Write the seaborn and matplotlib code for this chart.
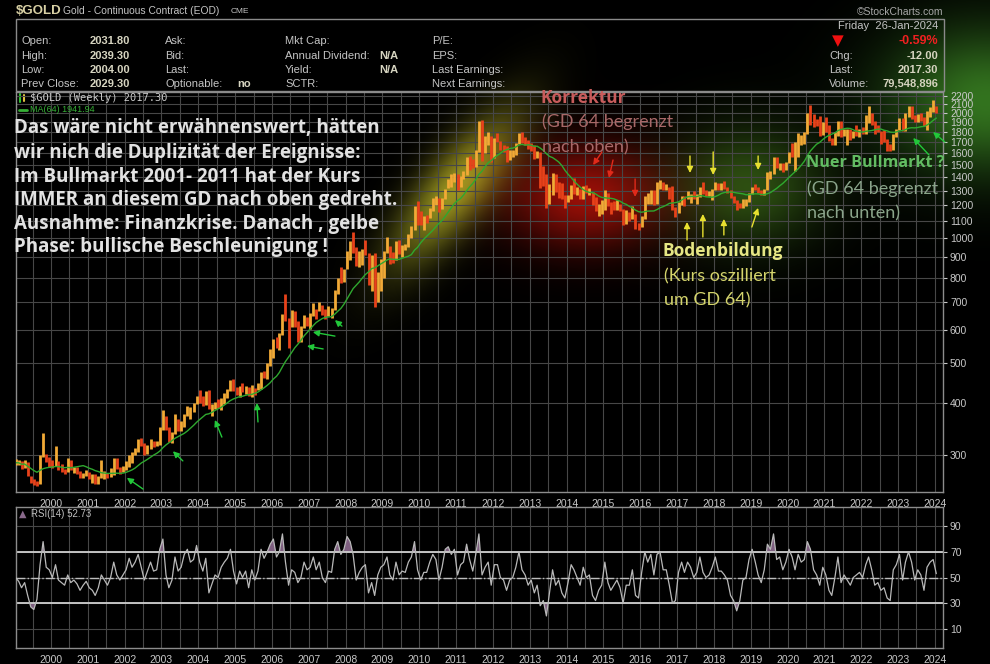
import numpy as np
import pandas as pd
import matplotlib
matplotlib.use('Agg')
import matplotlib.pyplot as plt
from matplotlib.lines import Line2D
from matplotlib.ticker import NullLocator, NullFormatter
import seaborn as sns

#%% Data: monthly gold values Jan 1999 .. Jan 2024
close = [287, 287, 280, 286, 268, 261, 255, 254, 299, 300, 292, 289,
         284, 294, 278, 275, 273, 289, 277, 278, 274, 265, 270, 273,
         266, 267, 258, 264, 266, 271, 266, 274, 292, 279, 275, 279,
         282, 297, 302, 309, 326, 318, 305, 313, 324, 317, 318, 348,
         368, 348, 335, 339, 362, 347, 353, 375, 384, 384, 396, 416,
         402, 396, 426, 388, 394, 396, 392, 408, 420, 429, 453, 438,
         423, 436, 428, 436, 417, 436, 429, 434, 473, 470, 496, 518,
         569, 557, 586, 654, 653, 616, 634, 627, 601, 607, 648, 636,
         652, 671, 669, 682, 657, 651, 668, 673, 748, 795, 786, 838,
         925, 975, 934, 866, 885, 930, 918, 834, 885, 717, 817, 884,
         928, 942, 924, 884, 980, 927, 955, 955, 1008, 1040, 1182, 1096,
         1083, 1118, 1115, 1180, 1212, 1244, 1181, 1246, 1308, 1357, 1384, 1421,
         1333, 1410, 1439, 1556, 1536, 1502, 1628, 1828, 1620, 1724, 1746, 1566,
         1740, 1711, 1669, 1664, 1562, 1604, 1614, 1692, 1776, 1719, 1714, 1676,
         1663, 1578, 1597, 1476, 1393, 1234, 1313, 1396, 1327, 1323, 1250, 1202,
         1240, 1321, 1283, 1296, 1250, 1322, 1282, 1287, 1210, 1171, 1175, 1184,
         1284, 1213, 1184, 1182, 1190, 1172, 1095, 1132, 1115, 1142, 1065, 1060,
         1118, 1234, 1234, 1293, 1216, 1322, 1351, 1307, 1317, 1276, 1173, 1152,
         1212, 1254, 1249, 1268, 1268, 1242, 1269, 1322, 1280, 1270, 1275, 1309,
         1345, 1318, 1327, 1316, 1305, 1254, 1233, 1206, 1196, 1215, 1226, 1284,
         1325, 1316, 1298, 1286, 1312, 1413, 1437, 1529, 1485, 1515, 1473, 1523,
         1589, 1566, 1596, 1694, 1751, 1800, 1986, 1978, 1896, 1880, 1781, 1895,
         1850, 1734, 1716, 1769, 1907, 1771, 1817, 1819, 1757, 1784, 1776, 1829,
         1796, 1908, 1954, 1911, 1848, 1817, 1781, 1726, 1672, 1640, 1768, 1826,
         1928, 1836, 1986, 1999, 1982, 1929, 1970, 1966, 1870, 1996, 2057, 2072,
         2017]

high = [293, 291, 290, 292, 289, 266, 262, 260, 300, 338, 302, 297,
        292, 315, 290, 285, 278, 294, 291, 280, 281, 274, 271, 275,
        273, 270, 269, 267, 292, 274, 271, 279, 294, 294, 280, 282,
        290, 300, 304, 311, 328, 330, 320, 317, 327, 324, 323, 350,
        384, 372, 351, 341, 376, 367, 361, 377, 394, 391, 399, 417,
        430, 415, 427, 431, 397, 403, 409, 412, 422, 433, 455, 458,
        438, 440, 447, 440, 437, 443, 434, 448, 474, 479, 499, 541,
        571, 576, 590, 655, 732, 643, 672, 665, 630, 615, 653, 645,
        659, 696, 673, 699, 691, 673, 685, 679, 750, 800, 850, 841,
        933, 981, 1033, 951, 933, 942, 990, 920, 912, 919, 829, 890,
        932, 1007, 958, 927, 981, 990, 963, 966, 1021, 1071, 1196, 1227,
        1163, 1129, 1137, 1183, 1249, 1266, 1249, 1250, 1310, 1388, 1424, 1432,
        1423, 1414, 1447, 1569, 1577, 1553, 1632, 1917, 1923, 1761, 1804, 1764,
        1744, 1792, 1718, 1675, 1667, 1628, 1628, 1693, 1790, 1798, 1754, 1727,
        1697, 1680, 1620, 1614, 1488, 1424, 1348, 1434, 1424, 1362, 1361, 1267,
        1270, 1345, 1392, 1331, 1315, 1332, 1346, 1323, 1293, 1255, 1208, 1238,
        1307, 1284, 1224, 1225, 1232, 1205, 1175, 1170, 1157, 1192, 1145, 1088,
        1127, 1263, 1287, 1306, 1304, 1362, 1377, 1366, 1352, 1326, 1338, 1190,
        1220, 1264, 1264, 1296, 1274, 1296, 1275, 1330, 1362, 1306, 1300, 1310,
        1366, 1361, 1356, 1369, 1326, 1309, 1262, 1235, 1215, 1243, 1241, 1286,
        1329, 1349, 1324, 1309, 1313, 1443, 1453, 1566, 1566, 1519, 1517, 1528,
        1613, 1691, 1703, 1788, 1775, 1802, 2005, 2089, 1993, 1933, 1966, 1900,
        1962, 1875, 1741, 1797, 1919, 1916, 1836, 1834, 1836, 1814, 1877, 1832,
        1853, 1975, 2078, 2003, 1911, 1877, 1815, 1824, 1735, 1683, 1786, 1837,
        1951, 1949, 2003, 2085, 2085, 1985, 1990, 2000, 1953, 2022, 2072, 2152,
        2086]

low = [284, 283, 278, 279, 266, 256, 253, 252, 255, 297, 288, 280,
       279, 282, 276, 273, 269, 272, 276, 271, 270, 263, 263, 267,
       262, 256, 255, 255, 264, 262, 264, 265, 268, 277, 270, 272,
       276, 281, 287, 299, 305, 315, 300, 301, 309, 313, 315, 316,
       345, 345, 322, 321, 337, 343, 342, 350, 373, 367, 380, 397,
       399, 393, 395, 386, 372, 387, 388, 384, 397, 411, 428, 427,
       419, 413, 426, 420, 415, 414, 418, 430, 433, 460, 458, 490,
       514, 542, 538, 583, 630, 542, 610, 610, 560, 562, 606, 613,
       602, 647, 636, 666, 651, 637, 648, 642, 669, 732, 777, 782,
       841, 887, 918, 858, 852, 859, 908, 772, 744, 682, 701, 746,
       800, 920, 864, 869, 885, 917, 902, 935, 950, 1001, 1043, 1074,
       1075, 1044, 1089, 1116, 1164, 1199, 1155, 1177, 1242, 1317, 1330, 1365,
       1309, 1327, 1384, 1419, 1462, 1478, 1481, 1611, 1535, 1602, 1676, 1522,
       1563, 1700, 1627, 1612, 1527, 1542, 1565, 1587, 1687, 1697, 1672, 1635,
       1625, 1555, 1562, 1321, 1338, 1180, 1208, 1272, 1292, 1251, 1242, 1182,
       1219, 1239, 1277, 1268, 1240, 1241, 1281, 1272, 1204, 1160, 1131, 1142,
       1167, 1196, 1142, 1170, 1170, 1162, 1077, 1080, 1098, 1110, 1052, 1046,
       1061, 1111, 1208, 1206, 1200, 1207, 1310, 1302, 1304, 1241, 1171, 1123,
       1146, 1200, 1195, 1241, 1214, 1242, 1205, 1258, 1276, 1261, 1264, 1238,
       1302, 1307, 1303, 1311, 1282, 1249, 1213, 1167, 1180, 1182, 1196, 1221,
       1276, 1305, 1281, 1267, 1267, 1309, 1385, 1427, 1474, 1462, 1446, 1459,
       1518, 1564, 1451, 1567, 1679, 1690, 1781, 1874, 1851, 1860, 1764, 1776,
       1803, 1717, 1677, 1678, 1767, 1750, 1762, 1677, 1721, 1746, 1758, 1753,
       1780, 1780, 1890, 1872, 1785, 1805, 1681, 1709, 1622, 1618, 1628, 1753,
       1825, 1809, 1809, 1960, 1941, 1900, 1901, 1913, 1860, 1823, 1955, 2009,
       2001]

rsi = [50, 47, 42, 46, 36, 27, 25, 33, 60, 78, 58, 56,
       50, 60, 48, 46, 44, 52, 46, 48, 45, 40, 44, 47,
       42, 40, 36, 42, 52, 48, 44, 50, 62, 52, 48, 52,
       56, 65, 58, 62, 68, 58, 48, 55, 62, 55, 56, 72,
       80, 52, 42, 48, 66, 55, 58, 68, 72, 62, 64, 75,
       62, 55, 65, 38, 45, 52, 50, 58, 62, 65, 72, 55,
       45, 55, 50, 55, 42, 56, 48, 55, 72, 65, 70, 76,
       80, 66, 70, 84, 62, 44, 56, 54, 46, 50, 62, 56,
       58, 66, 56, 62, 50, 46, 55, 54, 72, 78, 68, 72,
       82, 78, 68, 48, 54, 58, 60, 38, 46, 36, 52, 58,
       60, 66, 52, 48, 62, 52, 55, 54, 62, 66, 78, 56,
       48, 54, 54, 62, 68, 64, 48, 58, 72, 74, 68, 72,
       52, 60, 62, 76, 64, 55, 68, 84, 52, 58, 62, 44,
       60, 60, 50, 48, 40, 48, 50, 58, 70, 56, 52, 44,
       48, 38, 44, 28, 32, 20, 38, 56, 44, 48, 38, 34,
       46, 60, 56, 50, 44, 58, 50, 52, 36, 32, 40, 44,
       62, 46, 40, 44, 48, 42, 30, 44, 44, 56, 36, 34,
       54, 70, 62, 68, 52, 68, 70, 56, 56, 44, 30, 32,
       54, 62, 54, 62, 58, 50, 54, 66, 54, 50, 52, 58,
       66, 55, 55, 52, 48, 36, 32, 24, 32, 48, 50, 64,
       72, 62, 52, 46, 56, 76, 72, 84, 64, 66, 56, 62,
       72, 66, 56, 68, 62, 64, 78, 72, 56, 52, 44, 58,
       52, 40, 36, 50, 66, 46, 52, 48, 44, 50, 52, 54,
       50, 60, 66, 56, 44, 46, 40, 42, 34, 32, 56, 60,
       68, 48, 62, 70, 62, 48, 56, 52, 40, 58, 62, 64,
       53]

year_ticks = list(range(2000, 2025))
price_ticks = [300, 400, 500, 600, 700, 800, 900, 1000, 1100, 1200, 1300,
               1400, 1500, 1600, 1700, 1800, 1900, 2000, 2100, 2200]
rsi_ticks = [10, 30, 50, 70, 90]

# arrows: (tail year, tail price, head year, head price)
green_arrows = [(2002.50, 248, 2002.06, 264), (2003.58, 290, 2003.31, 306),
                (2004.64, 331, 2004.45, 364), (2005.62, 360, 2005.59, 400),
                (2007.39, 540, 2006.95, 549), (2007.71, 580, 2007.11, 593),
                (2007.90, 613, 2007.71, 634), (2023.84, 1586, 2023.41, 1743),
                (2024.27, 1704, 2023.95, 1802)]
red_arrows = [(2014.96, 1613, 2014.72, 1500), (2015.26, 1542, 2015.15, 1396),
              (2015.86, 1388, 2015.86, 1256)]
yellow_arrows = [(2017.35, 1577, 2017.35, 1435), (2017.98, 1613, 2017.98, 1419),
                 (2019.20, 1577, 2019.20, 1459), (2017.27, 989, 2017.27, 1093),
                 (2017.70, 1006, 2017.70, 1143), (2018.27, 1017, 2018.27, 1112),
                 (2019.03, 1063, 2019.20, 1182)]

#%% Frame
dates = pd.date_range('1999-01-01', periods=len(close), freq='MS') + pd.Timedelta(days=14)
df = pd.DataFrame({'t': dates.year + (dates.dayofyear - 1) / 365.25,
                   'close': close, 'high': high, 'low': low, 'rsi': rsi})
df['open'] = df['close'].shift(1).fillna(df['close'])
df['ma'] = df['close'].rolling(15, min_periods=1).mean()  # ~64 weeks
up = df['close'] >= df['open']

#%% Figure
W, H = 990, 664
sns.set_style('dark')
plt.rcParams['font.family'] = ['Liberation Sans', 'DejaVu Sans']
fig = plt.figure(figsize=(W / 100, H / 100), dpi=100, facecolor='black')


def fx(x):
    return x / W


def fy(y):
    return 1 - y / H


def box(l, t, r, b):
    return [l / W, 1 - b / H, (r - l) / W, (b - t) / H]


# background glows (pixel centre, spreads, angle, colour, strength)
yy, xx = np.mgrid[0:H, 0:W]
glow = np.zeros((H, W, 3))
for cx, cy, sx, sy, ang, col, a in [
        (455, 188, 66, 23, -52, (0.7, 0.7, 0.15), 0.82),
        (585, 196, 56, 36, 0, (0.62, 0.06, 0.03), 0.95),
        (748, 186, 52, 42, 0, (0.2, 0.36, 0.08), 0.85),
        (985, 100, 70, 52, 0, (0.2, 0.45, 0.12), 1.0)]:
    th = np.deg2rad(ang)
    u = (xx - cx) * np.cos(th) + (yy - cy) * np.sin(th)
    v = -(xx - cx) * np.sin(th) + (yy - cy) * np.cos(th)
    g = a * np.exp(-0.5 * ((u / sx) ** 2 + (v / sy) ** 2))
    glow += g[..., None] * np.array(col)
glow = np.clip(glow, 0, 1)
bg = fig.add_axes([0, 0, 1, 1], zorder=0)
bg.imshow(glow, extent=[0, 1, 0, 1], aspect='auto', interpolation='bilinear')
bg.set_xlim(0, 1)
bg.set_ylim(0, 1)
bg.axis('off')

grid_col = '#474747'
lab_col = '#c8c8c8'
spine_col = '#8c8c8c'

#%% Price panel
ax = fig.add_axes(box(16, 92, 943, 492), zorder=2)
ax.set_facecolor('none')
ax.set_yscale('log')
ax.set_xlim(1999.05, 2024.22)
ax.set_ylim(244, 2250)
ax.vlines(df['t'][up], df['low'][up], df['high'][up], color='#f2aa36', lw=2.0, zorder=3)
ax.vlines(df['t'][~up], df['low'][~up], df['high'][~up], color='#e8421a', lw=2.0, zorder=3)
sns.lineplot(data=df, x='t', y='ma', ax=ax, color='#2fa82f', lw=1.0, zorder=4)
ax.set_xlabel('')
ax.set_ylabel('')

for arrows, col in [(green_arrows, '#22c83a'), (red_arrows, '#e02a1a'),
                    (yellow_arrows, '#e8e030')]:
    for t0, p0, t1, p1 in arrows:
        ax.annotate('', xy=(t1, p1), xytext=(t0, p0), annotation_clip=False,
                    arrowprops=dict(arrowstyle='-|>', color=col, lw=1.0,
                                    mutation_scale=9, shrinkA=0, shrinkB=0),
                    zorder=5)


def style_axes(a, yt):
    a.yaxis.tick_right()
    a.set_xticks(year_ticks)
    a.set_xticks(np.arange(1999.5, 2024.3, 1.0), minor=True)
    a.xaxis.set_minor_formatter(NullFormatter())
    a.set_yticks(yt)
    a.set_yticklabels([str(v) for v in yt])
    a.yaxis.set_minor_locator(NullLocator())
    a.yaxis.set_minor_formatter(NullFormatter())
    a.grid(True, which='both', color=grid_col, lw=0.8)
    a.tick_params(axis='both', colors=lab_col, labelsize=7.5, length=3,
                  width=0.8, pad=2)
    a.tick_params(axis='x', which='minor', length=0)
    for s in a.spines.values():
        s.set_color(spine_col)
        s.set_linewidth(1)
        s.set_visible(True)
    a.set_axisbelow(True)


style_axes(ax, price_ticks)
ax.tick_params(axis='x', colors=lab_col, pad=2)

#%% RSI panel
rax = fig.add_axes(box(16, 507, 943, 648), zorder=2)
rax.set_facecolor('black')
rax.set_xlim(1999.05, 2024.22)
rax.set_ylim(-5, 105)
rax.fill_between(df['t'], 70, df['rsi'], where=df['rsi'] >= 70, interpolate=True,
                 color='#7e5f80', lw=0, zorder=2)
rax.fill_between(df['t'], 30, df['rsi'], where=df['rsi'] <= 30, interpolate=True,
                 color='#7e5f80', lw=0, zorder=2)
rax.axhline(70, color='#cfcfcf', lw=1.3, zorder=2)
rax.axhline(30, color='#cfcfcf', lw=1.3, zorder=2)
rax.axhline(50, color='#bdbdbd', lw=1.0, ls='-.', zorder=2)
sns.lineplot(data=df, x='t', y='rsi', ax=rax, color='#b9b9b9', lw=0.9, zorder=3)
rax.set_xlabel('')
rax.set_ylabel('')
style_axes(rax, rsi_ticks)

#%% Header
fig.add_artist(plt.Rectangle((fx(16), fy(91)), (944 - 16) / W, (91 - 19) / H,
                             transform=fig.transFigure, fill=False,
                             ec='#8a8a8a', lw=1))


def txt(x, y, s, ha='left', color='#c4c4c4', size=8, weight='normal', **kw):
    fig.text(fx(x), fy(y), s, ha=ha, va='center', color=color, fontsize=size,
             fontweight=weight, **kw)


val_col = '#d6d4c0'
txt(16, 11, '$GOLD', color='#d8d0a4', size=9.5, weight='bold')
txt(63, 11, 'Gold - Continuous Contract (EOD)', size=7.4)
txt(231, 11.5, 'CME', size=6)
txt(943, 12, '\u00a9StockCharts.com', ha='right', color='#a8a8a8', size=7.5)

rows = [41, 56, 70, 84]
for y, lab, val in zip(rows, ['Open:', 'High:', 'Low:', 'Prev Close:'],
                       ['2031.80', '2039.30', '2004.00', '2029.30']):
    txt(21, y, lab)
    txt(130, y, val, ha='right', color=val_col, weight='bold')
for y, lab in zip(rows, ['Ask:', 'Bid:', 'Last:', 'Optionable:']):
    txt(165, y, lab)
txt(251, 84, 'no', ha='right', color=val_col, weight='bold')
for y, lab in zip(rows, ['Mkt Cap:', 'Annual Dividend:', 'Yield:', 'SCTR:']):
    txt(285, y, lab)
txt(398, 56, 'N/A', ha='right', color=val_col, weight='bold')
txt(398, 70, 'N/A', ha='right', color=val_col, weight='bold')
for y, lab in zip(rows, ['P/E:', 'EPS:', 'Last Earnings:', 'Next Earnings:']):
    txt(432, y, lab)

txt(938, 26, 'Friday  26-Jan-2024', ha='right', size=8)
txt(838, 41, '\u25bc', ha='center', color='#f01010', size=11, family='DejaVu Sans')
txt(938, 41, '-0.59%', ha='right', color='#f02020', size=9, weight='bold')
txt(829, 56, 'Chg:')
txt(938, 56, '-12.00', ha='right', color=val_col, weight='bold')
txt(829, 70, 'Last:')
txt(938, 70, '2017.30', ha='right', color=val_col, weight='bold')
txt(829, 84, 'Volume:')
txt(938, 84, '79,548,896', ha='right', color=val_col, weight='bold')

# legends inside panels
txt(30, 98, '$GOLD (Weekly) 2017.30', size=7.5, family='DejaVu Sans Mono', color='#c8c8c8')
fig.add_artist(Line2D([fx(20), fx(20)], [fy(102), fy(94)], color='#30c030', lw=1.5))
fig.add_artist(Line2D([fx(24), fx(24)], [fy(101), fy(95)], color='#e0c040', lw=1.5))
txt(30, 110, 'MA(64) 1941.94', size=6.5, color='#36b036')
fig.add_artist(Line2D([fx(19), fx(27)], [fy(110), fy(110)], color='#36b036', lw=2))
txt(31, 514, 'RSI(14) 52.73', size=7, color='#c0c0c0')
txt(23, 514, '\u25b2', ha='center', size=7, color='#8a6a8c', family='DejaVu Sans')

#%% Annotations
big = ['Das w\u00e4re nicht erw\u00e4hnenswert, h\u00e4tten',
       'wir nich die Duplizit\u00e4t der Ereignisse:',
       'Im Bullmarkt 2001- 2011 hat der Kurs',
       'IMMER an diesem GD nach oben gedreht.',
       'Ausnahme: Finanzkrise. Danach , gelbe',
       'Phase: bullische Beschleunigung !']
for y, line in zip([128, 153, 177, 200, 224, 247], big):
    txt(14, y, line, color='#e2e2e2', size=13.5, weight='bold', family='Open Sans', zorder=6)

head_kw = dict(size=12.5, weight='bold', family='Open Sans', zorder=6)
sub_kw = dict(size=13, weight='normal', family='Lato', zorder=6)
txt(541, 98, 'Korrektur', color='#c85c5c', **head_kw)
txt(542, 122, '(GD 64 begrenzt', color='#a86868', **sub_kw)
txt(542, 147, 'nach oben)', color='#a86868', **sub_kw)

txt(663, 251, 'Bodenbildung', color='#e6e684', **head_kw)
txt(664, 276, '(Kurs oszilliert', color='#d4d46c', **sub_kw)
txt(664, 300, 'um GD 64)', color='#d4d46c', **sub_kw)

txt(806, 163, 'Nuer Bullmarkt ?', color='#62bc62', size=11.6, weight='bold',
    family='Open Sans', zorder=6)
txt(807, 189, '(GD 64 begrenzt', color='#8aa48a', **sub_kw)
txt(807, 213, 'nach unten)', color='#8aa48a', **sub_kw)

fig.savefig('out.png', dpi=100, facecolor='black')
